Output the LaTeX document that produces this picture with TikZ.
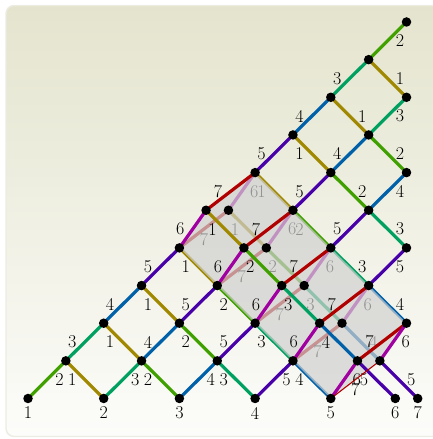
\documentclass[tikz,border=0pt]{standalone}
\usepackage{tikz}
\definecolor{cA}{RGB}{160,136,0}
\definecolor{cB}{RGB}{64,160,0}
\definecolor{cC}{RGB}{0,160,96}
\definecolor{cD}{RGB}{0,96,168}
\definecolor{cE}{RGB}{72,0,168}
\definecolor{cF}{RGB}{160,0,160}
\definecolor{cG}{RGB}{176,0,0}
\definecolor{bgtop}{RGB}{228,228,206}
\definecolor{bgbot}{RGB}{252,252,250}
\definecolor{framecol}{RGB}{236,236,226}
\definecolor{cubegray}{RGB}{208,208,208}
\newcount\lbc
\tikzset{
  autoname/.code={\global\advance\lbc by 1\relax\pgfkeysalso{/tikz/name=t\the\lbc}},
  dot/.style={circle, fill=black, inner sep=0pt, minimum size=9.5pt},
  ed/.style={line width=3.2pt},
  e1/.style={ed, draw=cA}, e2/.style={ed, draw=cB}, e3/.style={ed, draw=cC},
  e4/.style={ed, draw=cD}, e5/.style={ed, draw=cE}, e6/.style={ed, draw=cF},
  e7/.style={ed, draw=cG},
  thinred/.style={line width=1.1pt, draw=cG},
  lab/.style={autoname, font=\fontsize{18}{20}\selectfont, inner sep=0pt, text=black},
  L/.style={lab, midway, xshift=-12.5pt},
  R/.style={lab, midway, xshift=12.5pt},
  B/.style={lab, midway, yshift=-10pt},
  bl/.style={lab, yshift=-14.5pt},
}
\begin{document}
\begin{tikzpicture}[x=37.85pt, y=37.65pt]
\useasboundingbox (-0.7398,-1.0757) rectangle (10.674,10.584);
% frame
\shade[top color=bgtop, bottom color=bgbot, rounded corners=8pt] (-0.581,-1.009) rectangle (11.2,10.438);
\draw[framecol, line width=1.4pt, rounded corners=8pt] (-0.581,-1.009) rectangle (11.2,10.438);
% coordinates
\coordinate (n00) at (0,0); \coordinate (n20) at (2,0); \coordinate (n40) at (4,0);
\coordinate (n60) at (6,0); \coordinate (n80) at (8,0);
\coordinate (a0) at (9.704,0); \coordinate (b0) at (10.296,0);
\coordinate (n11) at (1,1); \coordinate (n31) at (3,1); \coordinate (n51) at (5,1);
\coordinate (n71) at (7,1); \coordinate (a1) at (8.704,1); \coordinate (b1) at (9.296,1);
\coordinate (n22) at (2,2); \coordinate (n42) at (4,2); \coordinate (n62) at (6,2);
\coordinate (a2) at (7.704,2); \coordinate (b2) at (8.296,2); \coordinate (nA2) at (10,2);
\coordinate (n33) at (3,3); \coordinate (n53) at (5,3);
\coordinate (a3) at (6.704,3); \coordinate (b3) at (7.296,3); \coordinate (n93) at (9,3);
\coordinate (n44) at (4,4); \coordinate (a4) at (5.704,4); \coordinate (b4) at (6.296,4);
\coordinate (n84) at (8,4); \coordinate (nA4) at (10,4);
\coordinate (a5) at (4.704,5); \coordinate (b5) at (5.296,5);
\coordinate (n75) at (7,5); \coordinate (n95) at (9,5);
\coordinate (n66) at (6,6); \coordinate (n86) at (8,6); \coordinate (nA6) at (10,6);
\coordinate (n77) at (7,7); \coordinate (n97) at (9,7);
\coordinate (n88) at (8,8); \coordinate (nA8) at (10,8);
\coordinate (n99) at (9,9); \coordinate (nAA) at (10,10);
% regular lattice edges
\draw[e2] (n00) -- node[R]{2} (n11);
\draw[e1] (n11) -- node[L]{1} (n20);
\draw[e3] (n20) -- node[R]{3} (n31);
\draw[e2] (n31) -- node[L]{2} (n40);
\draw[e4] (n40) -- node[R]{4} (n51);
\draw[e3] (n51) -- node[L]{3} (n60);
\draw[e5] (n60) -- node[R]{5} (n71);
\draw[e4] (n71) -- node[L]{4} (n80);
\draw[e3] (n11) -- node[L]{3} (n22);
\draw[e1] (n22) -- node[L]{1} (n31);
\draw[e4] (n31) -- node[L]{4} (n42);
\draw[e2] (n42) -- node[L]{2} (n51);
\draw[e5] (n51) -- node[L]{5} (n62);
\draw[e3] (n62) -- node[L]{3} (n71);
\draw[e4] (n22) -- node[L]{4} (n33);
\draw[e1] (n33) -- node[L]{1} (n42);
\draw[e5] (n42) -- node[L]{5} (n53);
\draw[e2] (n53) -- node[L]{2} (n62);
\draw[e5] (n33) -- node[L]{5} (n44);
\draw[e1] (n44) -- node[L]{1} (n53);
\draw[e1] (n66) -- node[L]{1} (n75);
\draw[e2] (n75) -- node[L]{2} (n84);
\draw[e3] (n84) -- node[R]{3} (n93);
\draw[e4] (n93) -- node[R]{4} (nA2);
\draw[e5] (n93) -- node[R]{5} (nA4);
\draw[e5] (n84) -- node[L]{5} (n95);
\draw[e3] (n95) -- node[R]{3} (nA4);
\draw[e5] (n75) -- node[L]{5} (n86);
\draw[e2] (n86) -- node[R]{2} (n95);
\draw[e4] (n95) -- node[R]{4} (nA6);
\draw[e5] (n66) -- node[L]{5} (n77);
\draw[e1] (n77) -- node[L]{1} (n86);
\draw[e4] (n86) -- node[L]{4} (n97);
\draw[e2] (n97) -- node[R]{2} (nA6);
\draw[e4] (n77) -- node[L]{4} (n88);
\draw[e1] (n88) -- node[R]{1} (n97);
\draw[e3] (n97) -- node[R]{3} (nA8);
\draw[e3] (n88) -- node[L]{3} (n99);
\draw[e1] (n99) -- node[R]{1} (nA8);
\draw[e2] (n99) -- node[R]{2} (nAA);
% back copies
\draw[e7] (n44) -- node[B]{7} (b5);
\draw[e6] (b5) -- node[R]{6} (n66);
\draw[e1] (b5) -- node[L]{1} (b4);
\draw[e7] (n53) -- node[B]{7} (b4);
\draw[e6] (b4) -- node[R]{6} (n75);
\draw[e2] (b4) -- node[L]{2} (b3);
\draw[e7] (n62) -- node[B]{7} (b3);
\draw[e6] (b3) -- node[R]{6} (n84);
\draw[e3] (b3) -- node[L]{3} (b2);
\draw[e7] (n71) -- node[B]{7} (b2);
\draw[e6] (b2) -- node[R]{6} (n93);
\draw[e4] (b2) -- node[R]{4} (b1);
% gray cube
\fill[cubegray, opacity=0.7] (n44) -- (a5) -- (n66) -- (n75) -- (n84) -- (n93) -- (nA2)
  -- (b1) -- (n80) -- (n71) -- (n62) -- (n53) -- cycle;
% front copies
\draw[e6] (n44) -- node[L]{6} (a5);
\draw[e7] (a5) -- node[L]{7} (n66);
\draw[e1] (a5) -- node[L]{1} (a4);
\draw[e6] (n53) -- node[L]{6} (a4);
\draw[e7] (a4) -- node[L]{7} (n75);
\draw[e2] (a4) -- node[L]{2} (a3);
\draw[e6] (n62) -- node[L]{6} (a3);
\draw[e7] (a3) -- node[L]{7} (n84);
\draw[e3] (a3) -- node[L]{3} (a2);
\draw[e6] (n71) -- node[L]{6} (a2);
\draw[e7] (a2) -- node[L]{7} (n93);
\draw[e4] (a2) -- node[L]{4} (a1);
\draw[e6] (n80) -- node[R]{6} (a1);
\draw[e7] (a1) -- node[L]{7} (nA2);
\draw[e5] (a1) -- node[L]{5} (a0);
\draw[e5] (b1) -- node[R]{5} (b0);
\draw[e6] (b1) -- node[R]{6} (nA2);
\draw[thinred] (n80) -- node[B]{7} (b1);
% dots
\foreach \p in {n00,n20,n40,n60,n80,a0,b0,n11,n31,n51,n71,a1,b1,n22,n42,n62,a2,b2,nA2,
  n33,n53,a3,b3,n93,n44,a4,b4,n84,nA4,a5,b5,n75,n95,n66,n86,nA6,n77,n97,n88,nA8,n99,nAA}
  \node[dot] (d\p) at (\p) {};
% bottom labels
\node[bl] at (n00) {1};
\node[bl] at (n20) {2};
\node[bl] at (n40) {3};
\node[bl] at (n60) {4};
\node[bl] at (n80) {5};
\node[bl] at (a0) {6};
\node[bl] at (b0) {7};
\end{tikzpicture}
\end{document}
